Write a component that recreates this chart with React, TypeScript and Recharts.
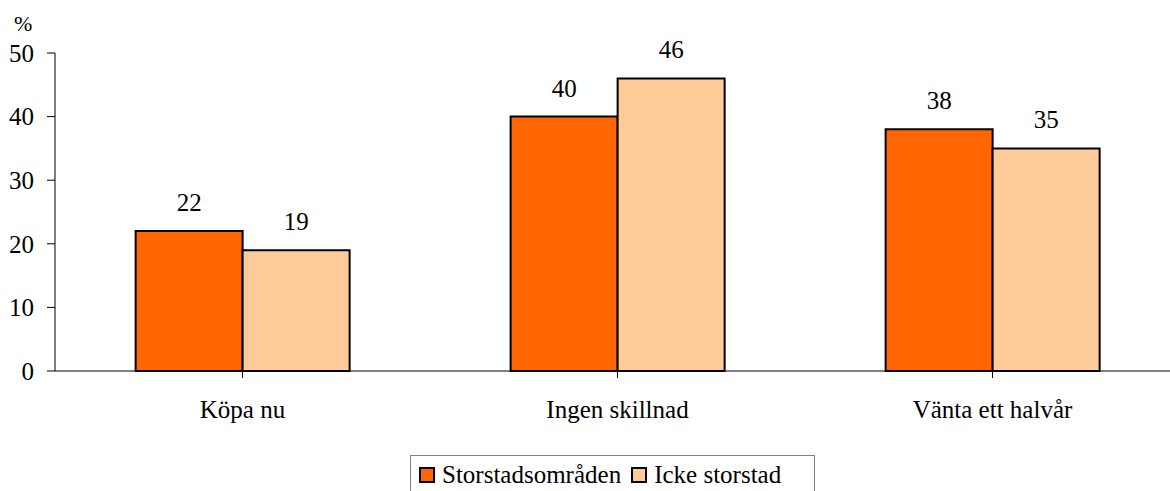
import { BarChart, Bar, XAxis, YAxis, Legend, LabelList } from "recharts";

const categories = ["Köpa nu", "Ingen skillnad", "Vänta ett halvår"];
const storstad = [22, 40, 38];
const ickeStorstad = [19, 46, 35];
const yTicks = [0, 10, 20, 30, 40, 50];

const seriesNames = ["Storstadsområden", "Icke storstad"];
const colors = ["#FF6600", "#FFCC99"];

const data = categories.map((name, i) => ({
  name,
  storstad: storstad[i],
  icke: ickeStorstad[i],
}));

const font = "Liberation Serif, DejaVu Serif, Noto Serif, serif";

function LegendBox() {
  return (
    <div
      style={{
        border: "1px solid #7f7f7f",
        display: "flex",
        alignItems: "center",
        padding: "6px 8px",
        fontFamily: font,
        fontSize: 25,
        color: "#000",
        whiteSpace: "nowrap",
        height: 40,
        boxSizing: "border-box",
      }}
    >
      {seriesNames.map((s, i) => (
        <span key={s} style={{ display: "flex", alignItems: "center", marginRight: i === 0 ? 10 : 0 }}>
          <span
            style={{
              display: "inline-block",
              width: 12,
              height: 12,
              background: colors[i],
              border: "2px solid #000",
              marginRight: 7,
            }}
          />
          {s}
        </span>
      ))}
    </div>
  );
}

export default function App() {
  return (
    <div
      style={{
        position: "absolute",
        left: 0,
        top: 0,
        width: 1170,
        height: 491,
        overflow: "hidden",
        background: "#fff",
      }}
    >
      <BarChart
        width={1190}
        height={510}
        data={data}
        margin={{ top: 53, right: 10, bottom: 91, left: 0 }}
        barCategoryGap="21.5%"
        barGap={0}
      >
        <XAxis
          dataKey="name"
          axisLine={{ stroke: "#000", strokeWidth: 1 }}
          tickLine={{ stroke: "#000" }}
          tickSize={7}
          tickMargin={22}
          interval={0}
          tick={{ fill: "#000", fontFamily: font, fontSize: 25 }}
          height={8}
        />
        <YAxis
          domain={[0, 50]}
          ticks={yTicks}
          width={55}
          axisLine={{ stroke: "#000", strokeWidth: 1 }}
          tickLine={{ stroke: "#000" }}
          tickSize={8}
          tickMargin={13}
          tick={{ fill: "#000", fontFamily: font, fontSize: 25 }}
          label={{
            content: () => (
              <text x={14} y={31} fontFamily={font} fontSize={22} fill="#000">
                %
              </text>
            ),
          }}
        />
        <Legend
          content={() => <LegendBox />}
          wrapperStyle={{ left: 410, top: 455, width: 405 }}
        />
        <Bar dataKey="storstad" name={seriesNames[0]} fill={colors[0]} stroke="#000" strokeWidth={2} isAnimationActive={false}>
          <LabelList dataKey="storstad" position="top" offset={20} fill="#000" fontFamily={font} fontSize={25} />
        </Bar>
        <Bar dataKey="icke" name={seriesNames[1]} fill={colors[1]} stroke="#000" strokeWidth={2} isAnimationActive={false}>
          <LabelList dataKey="icke" position="top" offset={20} fill="#000" fontFamily={font} fontSize={25} />
        </Bar>
      </BarChart>
    </div>
  );
}
